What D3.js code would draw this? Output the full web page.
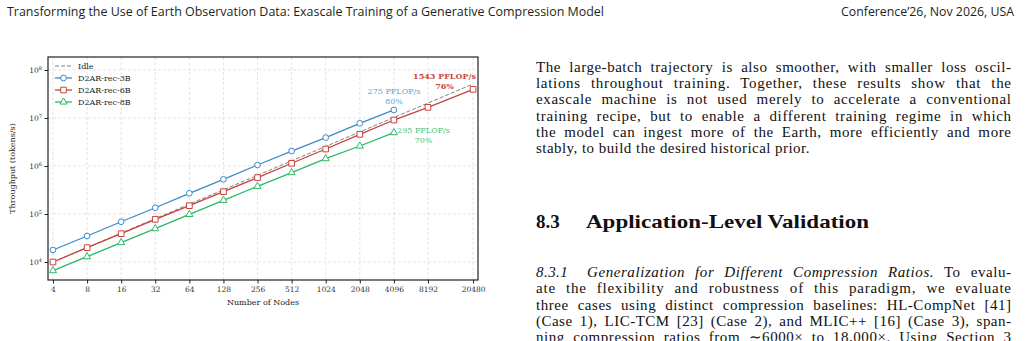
<!DOCTYPE html>
<html>
<head>
<meta charset="utf-8">
<script src="https://cdn.jsdelivr.net/npm/d3@7"></script>
<style>
body{margin:0;background:#fff;}
svg{display:block;}
text{white-space:pre;}
</style>
</head>
<body>
<svg id="page" width="1025" height="341"></svg>
<script>
// ---- data ----
var xTicks=[4,8,16,32,64,128,256,512,1024,2048,4096,8192,20480];
var yTicks=[1e4,1e5,1e6,1e7,1e8];
var yExp=["4","5","6","7","8"];

var idleNodes=[4,8,16,32,64,128,256,512,1024,2048,4096,8192,20480];
var idleVals=[1e4,2e4,4e4,8e4,1.6e5,3.2e5,6.4e5,1.28e6,2.56e6,5.12e6,1.024e7,2.048e7,5.12e7];

var nodes3B=[4,8,16,32,64,128,256,512,1024,2048,4096];
var vals3B=[17800,34800,69000,135000,270000,528000,1050000,2050000,3900000,7760000,14700000];

var nodes6B=[4,8,16,32,64,128,256,512,1024,2048,4096,8192,20480];
var vals6B=[10000,19900,38900,77600,149000,292000,575000,1140000,2260000,4570000,9080000,16700000,39500000];

var nodes8B=[4,8,16,32,64,128,256,512,1024,2048,4096];
var vals8B=[6600,12900,25300,49400,98000,193000,378000,727000,1420000,2610000,4940000];

var seriesNames=["D2AR-rec-3B","D2AR-rec-6B","D2AR-rec-8B"];
var seriesColors=["#3b8bca","#c8423b","#2bb865"];
var annoTop=["275 PFLOP/s","1543 PFLOP/s","295 PFLOP/s"];
var annoBottom=["80%","76%","70%"];

var svg=d3.select("#page");
var chartFont="'DejaVu Serif', serif";

// ---- running header ----
var h1=svg.append("text").attr("x",7).attr("y",16)
  .style("font-family","'Open Sans', sans-serif").style("font-size","12px").attr("fill","#231f20")
  .text("Transforming the Use of Earth Observation Data: Exascale Training of a Generative Compression Model");
h1.attr("textLength",597).attr("lengthAdjust","spacingAndGlyphs");
var h2=svg.append("text").attr("x",841).attr("y",16)
  .style("font-family","'Open Sans', sans-serif").style("font-size","12px").attr("fill","#231f20")
  .text("Conference\u201926, Nov 2026, USA");
h2.attr("textLength",173).attr("lengthAdjust","spacingAndGlyphs");

// ---- chart ----
var M={left:48,right:478,top:57,bottom:280};
var x=d3.scaleLog().base(2).domain([3.614,22650]).range([M.left,M.right]);
var y=d3.scaleLog().domain([Math.pow(10,3.625),Math.pow(10,8.271)]).range([M.bottom,M.top]);

var g=svg.append("g");

// grid
g.selectAll(".vg").data(xTicks).enter().append("line")
  .attr("x1",d=>x(d)).attr("x2",d=>x(d)).attr("y1",M.top).attr("y2",M.bottom)
  .attr("stroke","#d9d9d9").attr("stroke-width",0.7).attr("stroke-dasharray","3,2");
g.selectAll(".hg").data(yTicks).enter().append("line")
  .attr("x1",M.left).attr("x2",M.right).attr("y1",d=>y(d)).attr("y2",d=>y(d))
  .attr("stroke","#d9d9d9").attr("stroke-width",0.7).attr("stroke-dasharray","3,2");

// axes
var xa=g.append("g").attr("transform","translate(0,"+M.bottom+")")
  .call(d3.axisBottom(x).tickValues(xTicks).tickFormat(d3.format("d")).tickSize(3.5).tickPadding(3));
xa.select(".domain").remove();
xa.selectAll("text").style("font-family",chartFont).style("font-size","7.5px").attr("fill","#333");
xa.selectAll("line").attr("stroke","#222");

var ya=g.append("g").attr("transform","translate("+M.left+",0)")
  .call(d3.axisLeft(y).tickValues(yTicks).tickFormat("").tickSize(3.5));
ya.select(".domain").remove();
ya.selectAll("line").attr("stroke","#222");
var yl=g.selectAll(".ylab").data(yTicks).enter().append("text")
  .attr("x",M.left-6).attr("y",d=>y(d)+3).attr("text-anchor","end")
  .style("font-family",chartFont).style("font-size","7.5px").attr("fill","#333");
yl.append("tspan").text("10");
yl.append("tspan").attr("dy",-3.5).style("font-size","5px").text((d,i)=>yExp[i]);

g.append("text").attr("transform","translate(15,"+((M.top+M.bottom)/2)+") rotate(-90)")
  .attr("text-anchor","middle").style("font-family",chartFont).style("font-size","8px").attr("fill","#222")
  .text("Throughput (tokens/s)");
g.append("text").attr("x",(M.left+M.right)/2).attr("y",305).attr("text-anchor","middle")
  .style("font-family",chartFont).style("font-size","8px").attr("fill","#222")
  .text("Number of Nodes");

// lines
var line=d3.line().x(d=>x(d[0])).y(d=>y(d[1]));
g.append("path").datum(d3.zip(idleNodes,idleVals)).attr("d",line)
  .attr("fill","none").attr("stroke","#808080").attr("stroke-width",1).attr("stroke-dasharray","4,2");

var sets=[d3.zip(nodes3B,vals3B),d3.zip(nodes6B,vals6B),d3.zip(nodes8B,vals8B)];
var shapes=[d3.symbolCircle,d3.symbolSquare,d3.symbolTriangle];
var sizes=[26,32,22];
sets.forEach(function(s,i){
  g.append("path").datum(s).attr("d",line).attr("fill","none")
    .attr("stroke",seriesColors[i]).attr("stroke-width",1.3);
  g.selectAll(".m"+i).data(s).enter().append("path")
    .attr("d",d3.symbol().type(shapes[i]).size(sizes[i]))
    .attr("transform",d=>"translate("+x(d[0])+","+y(d[1])+")")
    .attr("fill","#fff").attr("stroke",seriesColors[i]).attr("stroke-width",1);
});

// frame
g.append("rect").attr("x",M.left).attr("y",M.top).attr("width",M.right-M.left).attr("height",M.bottom-M.top)
  .attr("fill","none").attr("stroke","#222").attr("stroke-width",1.2);

// annotations
var annoColors=["#5da3da","#c8473d","#3fc478"];
var annoX=[394,444.5,423.5];
var annoY=[94,79,132.5];
var annoBold=[false,true,false];
annoTop.forEach(function(t,i){
  var a=g.append("text").attr("text-anchor","middle").attr("fill",annoColors[i])
    .style("font-family",chartFont).style("font-size","8px").style("font-weight",annoBold[i]?"bold":"normal");
  a.append("tspan").attr("x",annoX[i]).attr("y",annoY[i]).text(t);
  a.append("tspan").attr("x",annoX[i]).attr("y",annoY[i]+10).text(annoBottom[i]);
});

// legend
var leg=g.append("g");
var legNames=["Idle"].concat(seriesNames);
legNames.forEach(function(n,i){
  var ly=66+i*12;
  var c=i===0?"#808080":seriesColors[i-1];
  leg.append("line").attr("x1",55).attr("x2",72).attr("y1",ly).attr("y2",ly)
    .attr("stroke",c).attr("stroke-width",i===0?1:1.3).attr("stroke-dasharray",i===0?"4,2":null);
  if(i>0){
    leg.append("path").attr("d",d3.symbol().type(shapes[i-1]).size(sizes[i-1]))
      .attr("transform","translate(63.5,"+ly+")").attr("fill","#fff").attr("stroke",c).attr("stroke-width",1);
  }
  leg.append("text").attr("x",78).attr("y",ly+3).style("font-family",chartFont).style("font-size","8px")
    .attr("fill","#222").text(n);
});

// ---- right-hand text column ----
var colL=536, colR=1011, bodySize=15, baseLS=0.45;
var bodyFont="'Liberation Serif', 'Times New Roman', serif";
function textLine(segs,x0,x1,yb,justify){
  var t=svg.append("text").attr("x",x0).attr("y",yb)
    .style("font-family",bodyFont).style("font-size",bodySize+"px").attr("fill","#111");
  segs.forEach(function(s){
    t.append("tspan").style("font-style",s.i?"italic":"normal").text(s.t);
  });
  var str=segs.map(s=>s.t).join("");
  if(!justify){ t.style("letter-spacing",baseLS+"px"); return t; }
  var w=t.node().getComputedTextLength();
  var ls=Math.max(0,Math.min(0.8,(x1-x0-w)*0.5/str.length));
  t.style("letter-spacing",ls+"px");
  w=t.node().getComputedTextLength();
  var n=(str.match(/ /g)||[]).length;
  if(n) t.style("word-spacing",((x1-x0-w+ls)/n)+"px");
  return t;
}
var para1=[
  "The large-batch trajectory is also smoother, with smaller loss oscil-",
  "lations throughout training. Together, these results show that the",
  "exascale machine is not used merely to accelerate a conventional",
  "training recipe, but to enable a different training regime in which",
  "the model can ingest more of the Earth, more efficiently and more",
  "stably, to build the desired historical prior."
];
para1.forEach(function(s,i){
  textLine([{t:s}],colL,colR,71.5+i*16.35,i<para1.length-1);
});

svg.append("text").attr("x",colL).attr("y",228)
  .style("font-family",bodyFont).style("font-size","19px").style("font-weight","bold").attr("fill","#111")
  .text("8.3");
svg.append("text").attr("x",586).attr("y",228)
  .style("font-family",bodyFont).style("font-size","19px").style("font-weight","bold").attr("fill","#111")
  .text("Application-Level Validation").attr("textLength",283).attr("lengthAdjust","spacingAndGlyphs");

var p2y=277;
textLine([{t:"8.3.1",i:true}],colL,colR,p2y,false);
textLine([{t:"Generalization for Different Compression Ratios.",i:true},{t:" To evalu-"}],587,colR,p2y,true);
var para2=[
  "ate the flexibility and robustness of this paradigm, we evaluate",
  "three cases using distinct compression baselines: HL-CompNet [41]",
  "(Case 1), LIC-TCM [23] (Case 2), and MLIC++ [16] (Case 3), span-",
  "ning compression ratios from \u223c6000\u00d7 to 18,000\u00d7. Using Section 3"
];
para2.forEach(function(s,i){
  textLine([{t:s}],colL,colR,p2y+(i+1)*16.35,true);
});
</script>
</body>
</html>
